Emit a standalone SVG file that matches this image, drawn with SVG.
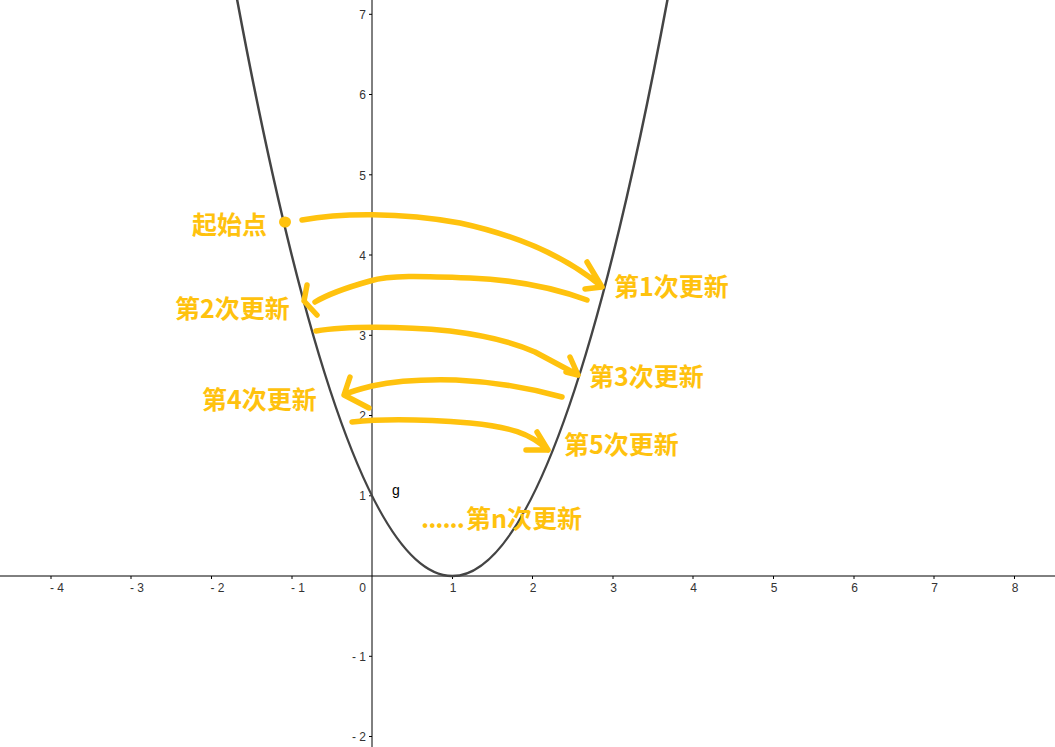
<svg xmlns="http://www.w3.org/2000/svg" width="1055" height="747" viewBox="0 0 1055 747">
<style>
.ax{stroke:#000;stroke-width:1;fill:none}
.tk{stroke:#000;stroke-width:1}
.al{font-family:"Liberation Sans",Arial,sans-serif;font-size:12px;fill:#333}
.xl{text-anchor:middle}
.xn{text-anchor:start}
.yl{text-anchor:end}
.curve{stroke:#444;stroke-width:2.5;fill:none}
.st{stroke:#FFC20E;stroke-width:5.5;fill:none;stroke-linecap:round;stroke-linejoin:round}
.lb{font-family:"Noto Sans CJK SC","Noto Sans",sans-serif;font-size:25px;font-weight:700;fill:#FFC20E}
</style>
<rect width="1055" height="747" fill="#fff"/>
<g id="axes">
<line class="ax" x1="0" y1="576" x2="1055" y2="576"/>
<line class="ax" x1="372" y1="0" x2="372" y2="747"/>
<g id="xticks">
<line class="tk" x1="51" y1="576" x2="51" y2="579"/>
<line class="tk" x1="131" y1="576" x2="131" y2="579"/>
<line class="tk" x1="211.5" y1="576" x2="211.5" y2="579"/>
<line class="tk" x1="292" y1="576" x2="292" y2="579"/>
<line class="tk" x1="452.5" y1="576" x2="452.5" y2="579"/>
<line class="tk" x1="532.5" y1="576" x2="532.5" y2="579"/>
<line class="tk" x1="613" y1="576" x2="613" y2="579"/>
<line class="tk" x1="693" y1="576" x2="693" y2="579"/>
<line class="tk" x1="773.5" y1="576" x2="773.5" y2="579"/>
<line class="tk" x1="854" y1="576" x2="854" y2="579"/>
<line class="tk" x1="934" y1="576" x2="934" y2="579"/>
<line class="tk" x1="1014.5" y1="576" x2="1014.5" y2="579"/>
</g>
<g id="yticks">
<line class="tk" x1="369" y1="14.3" x2="372" y2="14.3"/>
<line class="tk" x1="369" y1="94.5" x2="372" y2="94.5"/>
<line class="tk" x1="369" y1="174.8" x2="372" y2="174.8"/>
<line class="tk" x1="369" y1="255" x2="372" y2="255"/>
<line class="tk" x1="369" y1="335.3" x2="372" y2="335.3"/>
<line class="tk" x1="369" y1="415.5" x2="372" y2="415.5"/>
<line class="tk" x1="369" y1="495.8" x2="372" y2="495.8"/>
<line class="tk" x1="369" y1="656.3" x2="372" y2="656.3"/>
<line class="tk" x1="369" y1="736.5" x2="372" y2="736.5"/>
</g>
<g id="xlabels">
<text class="al xn" x="50" y="592">- 4</text>
<text class="al xn" x="130" y="592">- 3</text>
<text class="al xn" x="210.5" y="592">- 2</text>
<text class="al xn" x="291" y="592">- 1</text>
<text class="al yl" x="366" y="592">0</text>
<text class="al xl" x="453" y="592">1</text>
<text class="al xl" x="533" y="592">2</text>
<text class="al xl" x="613.5" y="592">3</text>
<text class="al xl" x="693.5" y="592">4</text>
<text class="al xl" x="774" y="592">5</text>
<text class="al xl" x="854.5" y="592">6</text>
<text class="al xl" x="934.5" y="592">7</text>
<text class="al xl" x="1015" y="592">8</text>
</g>
<g id="ylabels">
<text class="al yl" x="366" y="19">7</text>
<text class="al yl" x="366" y="99">6</text>
<text class="al yl" x="366" y="179.5">5</text>
<text class="al yl" x="366" y="259.5">4</text>
<text class="al yl" x="366" y="340">3</text>
<text class="al yl" x="366" y="420">2</text>
<text class="al yl" x="366" y="500">1</text>
<text class="al yl" x="366" y="661">- 1</text>
<text class="al yl" x="366" y="741">- 2</text>
</g>
</g>
<g id="parabola">
<path class="curve" d="M235.5,-9 Q452.3,1161 669.1,-9"/>
<text x="392" y="495" font-family="Liberation Sans, Arial, sans-serif" font-size="14" fill="#000">g</text>
</g>
<g id="connectors">
<ellipse cx="285" cy="222" rx="6" ry="5.5" fill="#FFC20E"/>
<path id="step1" class="st" d="M302,220 C340,213 400,212 460,223 C510,234 560,252 601,286 M587,262 L602,287 L585,289"/>
<path id="step2" class="st" d="M587,300 C560,290 520,280 470,278 C420,276 390,275 370,281 C345,288 325,296 315,302 M307,285 L304,301 L317,315"/>
<path id="step3" class="st" d="M316,331 C345,326 400,326 450,331 C490,336 515,343 535,352 C552,361 565,368 578,375 M570,357 L578,375 L566,372"/>
<path id="step4" class="st" d="M562,397 C540,391 500,382 456,380 C420,379 390,382 372,386 C360,389 352,391 346,394 M350,377 L344,395 L369,408"/>
<path id="step5" class="st" d="M352,422 C380,419 420,419 470,423 C510,427 530,433 548,450 M537,432 L548,450 L526,450"/>
</g>
<g id="label-start"><text class="lb" x="192" y="234">起始点</text></g>
<g id="label-1"><text class="lb" x="614" y="296">第1次更新</text></g>
<g id="label-2"><text class="lb" x="175" y="318">第2次更新</text></g>
<g id="label-3"><text class="lb" x="589" y="386">第3次更新</text></g>
<g id="label-4"><text class="lb" x="202" y="409">第4次更新</text></g>
<g id="label-5"><text class="lb" x="564" y="454">第5次更新</text></g>
<g id="label-n"><text class="lb" x="421" y="528"><tspan letter-spacing="-1">......</tspan><tspan x="466">第n次更新</tspan></text></g>
</svg>
